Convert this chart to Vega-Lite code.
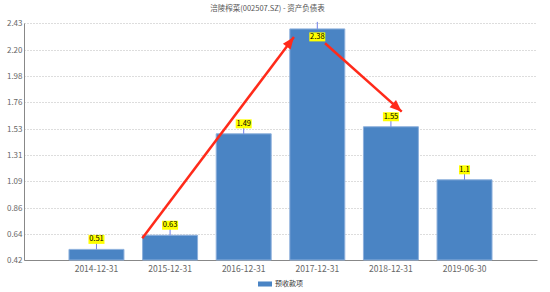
{
  "$schema": "https://vega.github.io/schema/vega-lite/v6.json",
  "width": 513,
  "height": 237,
  "autosize": "none",
  "padding": {"left": 24, "top": 23, "right": 13, "bottom": 32},
  "title": {
    "text": "涪陵榨菜(002507.SZ) - 资产负债表",
    "font": "Noto Sans CJK SC",
    "fontSize": 7.5,
    "fontWeight": "normal",
    "color": "#555555",
    "anchor": "middle",
    "dx": -13,
    "offset": 7
  },
  "config": {
    "view": {"stroke": null},
    "font": "Noto Sans CJK SC"
  },
  "datasets": {
    "bars": [
      {"date": "2014-12-31", "v": 0.51},
      {"date": "2015-12-31", "v": 0.63},
      {"date": "2016-12-31", "v": 1.49},
      {"date": "2017-12-31", "v": 2.38},
      {"date": "2018-12-31", "v": 1.55},
      {"date": "2019-06-30", "v": 1.1}
    ],
    "arrows": [
      {"id": 1, "x1": 0.622, "y1": 0.604, "x2": 2.683, "y2": 2.311},
      {"id": 2, "x1": 3.105, "y1": 2.258, "x2": 4.147, "y2": 1.678}
    ]
  },
  "layer": [
    {
      "data": {"name": "bars"},
      "encoding": {
        "x": {
          "field": "date",
          "type": "nominal",
          "scale": {"paddingInner": 0.253, "paddingOuter": 0.611},
          "axis": {
            "title": null,
            "labelAngle": 0,
            "ticks": false,
            "domainColor": "#888888",
            "labelFontSize": 8.5,
            "labelColor": "#666666",
            "labelPadding": 4,
            "grid": false
          }
        },
        "y": {
          "field": "v",
          "type": "quantitative",
          "scale": {"domain": [0.42, 2.43], "nice": false, "zero": false},
          "axis": {
            "title": null,
            "values": [0.42, 0.64, 0.86, 1.09, 1.31, 1.53, 1.76, 1.98, 2.2, 2.43],
            "format": ".2f",
            "grid": true,
            "gridDash": [1, 2],
            "gridColor": "#bbbbbb",
            "domainColor": "#888888",
            "ticks": false,
            "labelPadding": 2,
            "labelFontSize": 8,
            "labelColor": "#666666"
          }
        }
      },
      "layer": [
        {
          "mark": {"type": "bar", "stroke": "#8db0dc", "strokeWidth": 1},
          "encoding": {
            "y2": {"datum": 0.42},
            "color": {
              "datum": "预收款项",
              "scale": {"range": ["#4a84c4"]},
              "legend": {
                "orient": "none",
                "legendX": 234,
                "legendY": 254,
                "title": null,
                "padding": 0,
                "symbolType": "M-1,-0.36H1V0.36H-1Z",
                "symbolSize": 196,
                "symbolStrokeWidth": 0,
                "labelFontSize": 7,
                "labelColor": "#333333",
                "labelOffset": 3
              }
            }
          }
        },
        {
          "mark": {"type": "rule", "color": "#6f7fe8", "strokeWidth": 1, "y2Offset": -7},
          "encoding": {"y2": {"field": "v"}}
        },
        {
          "transform": [{"filter": "datum.v < 2"}],
          "layer": [
            {
              "mark": {"type": "point", "filled": true, "color": "#ffff00", "opacity": 1, "strokeWidth": 0, "yOffset": -10},
              "encoding": {
                "shape": {"condition": {"test": "datum.v == 1.1", "value": "M-1,-0.818H1V0.818H-1Z"}, "value": "M-1,-0.5625H1V0.5625H-1Z"},
                "size": {"condition": {"test": "datum.v == 1.1", "value": 121}, "value": 256}
              }
            },
            {
              "mark": {"type": "text", "fontSize": 7.5, "color": "#000000", "baseline": "middle", "dy": -10},
              "encoding": {"text": {"field": "v"}}
            }
          ]
        },
        {
          "transform": [{"filter": "datum.v >= 2"}],
          "layer": [
            {
              "mark": {"type": "point", "filled": true, "color": "#ffff00", "opacity": 1, "strokeWidth": 0, "yOffset": 8, "shape": "M-1,-0.5625H1V0.5625H-1Z", "size": 256}
            },
            {
              "mark": {"type": "text", "fontSize": 7.5, "color": "#000000", "baseline": "middle", "dy": 8},
              "encoding": {"text": {"field": "v"}}
            }
          ]
        }
      ]
    },
    {
      "data": {"name": "arrows"},
      "layer": [
        {
          "mark": {"type": "rule", "color": "#ff2a1a", "strokeWidth": 2.5},
          "encoding": {
            "x": {"field": "x1", "type": "quantitative", "scale": {"domain": [-0.985, 5.985], "nice": false, "zero": false}, "axis": null},
            "y": {"field": "y1", "type": "quantitative", "scale": {"domain": [0.42, 2.43], "nice": false, "zero": false}, "axis": null},
            "x2": {"field": "x2"},
            "y2": {"field": "y2"}
          }
        },
        {
          "transform": [{"filter": "datum.id == 1"}],
          "mark": {"type": "point", "filled": true, "color": "#ff2a1a", "opacity": 1, "strokeWidth": 0, "shape": "M0,0L0.8,2L-0.8,2Z", "size": 144, "angle": 37},
          "encoding": {
            "x": {"field": "x2", "type": "quantitative"},
            "y": {"field": "y2", "type": "quantitative"}
          }
        },
        {
          "transform": [{"filter": "datum.id == 2"}],
          "mark": {"type": "point", "filled": true, "color": "#ff2a1a", "opacity": 1, "strokeWidth": 0, "shape": "M0,0L0.8,2L-0.8,2Z", "size": 144, "angle": 132},
          "encoding": {
            "x": {"field": "x2", "type": "quantitative"},
            "y": {"field": "y2", "type": "quantitative"}
          }
        }
      ]
    }
  ],
  "resolve": {"scale": {"x": "independent", "y": "independent"}}
}
